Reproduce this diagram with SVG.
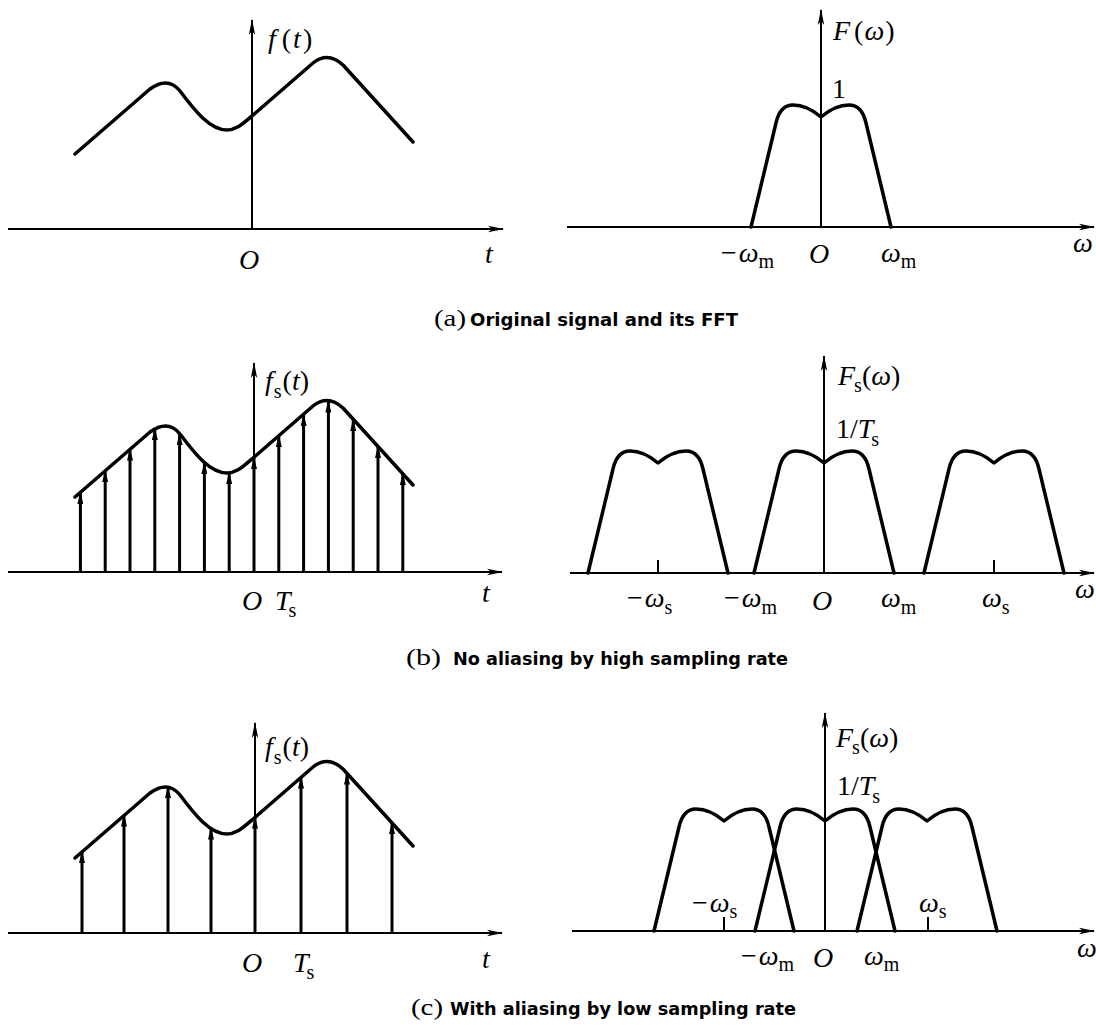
<svg xmlns="http://www.w3.org/2000/svg" width="1096" height="1025" viewBox="0 0 1096 1025">
<style>
.ax{stroke:#000;stroke-width:2;fill:none;marker-end:url(#axh)}
.cv{stroke:#000;stroke-width:3.5;fill:none;stroke-linejoin:round;stroke-linecap:round}
.st{stroke:#000;stroke-width:3;fill:none;marker-end:url(#sth)}
.tk{stroke:#000;stroke-width:2}
.m{font-family:"Liberation Serif","Times New Roman",serif;font-size:28px;fill:#000}
.i{font-style:italic}
.sb{font-size:20px;font-style:normal}
.cap{font-family:"DejaVu Sans",Verdana,sans-serif;font-weight:bold;font-size:17px;fill:#000}
.cl{font-family:"Liberation Serif","Times New Roman",serif;font-size:24px;fill:#000}
</style>
<defs>
<marker id="axh" viewBox="0 0 16 8" refX="15" refY="4" markerWidth="16" markerHeight="8" markerUnits="userSpaceOnUse" orient="auto"><path d="M0,0.8 L16,4 L0,7.2 L4,4 Z" fill="#000"/></marker>
<marker id="sth" viewBox="0 0 12 6" refX="11" refY="3" markerWidth="12" markerHeight="6" markerUnits="userSpaceOnUse" orient="auto"><path d="M0,0 L12,3 L0,6 Z" fill="#000"/></marker>
<path id="sig" d="M75,-75 L150,-140 Q168,-153 180,-138 C195,-118 210,-99 227,-99 C237,-99 243,-106 252,-113 L313,-166 Q328,-178 343,-164 L413,-87"/>
<path id="lobe" d="M-70,0 L-45,-104 Q-41,-122 -28,-122 Q-14,-122 0,-110 Q14,-122 28,-122 Q41,-122 45,-104 L70,0"/>
</defs>
<rect width="1096" height="1025" fill="#fff"/>

<!-- (a) left -->
<g id="a-time">
<line class="ax" x1="8" y1="229" x2="503" y2="229"/>
<line class="ax" x1="252" y1="229" x2="252" y2="20"/>
<use href="#sig" class="cv" transform="translate(0,229)"/>
<text class="m" x="268" y="48"><tspan class="i">f</tspan><tspan dx="6">(</tspan><tspan class="i" dx="2">t</tspan><tspan dx="2">)</tspan></text>
<text class="m i" x="239" y="269">O</text>
<text class="m i" x="485" y="263">t</text>
</g>

<!-- (a) right -->
<g id="a-freq">
<line class="ax" x1="567" y1="227" x2="1094" y2="227"/>
<line class="ax" x1="821" y1="227" x2="821" y2="10"/>
<use href="#lobe" class="cv" transform="translate(821,227)"/>
<text class="m" x="833" y="40"><tspan class="i">F</tspan><tspan dx="4">(</tspan><tspan class="i" dx="1">ω</tspan><tspan dx="1">)</tspan></text>
<text class="m" x="832" y="98">1</text>
<text class="m" x="721" y="262">−<tspan class="i" dx="2">ω</tspan><tspan class="sb" dy="6">m</tspan></text>
<text class="m i" x="809" y="263">O</text>
<text class="m" x="881" y="262"><tspan class="i">ω</tspan><tspan class="sb" dy="6">m</tspan></text>
<text class="m i" x="1073" y="252">ω</text>
</g>

<text id="cap-a" y="326"><tspan class="cl" x="434" textLength="32" lengthAdjust="spacingAndGlyphs">(a)</tspan><tspan class="cap" x="470" textLength="268" lengthAdjust="spacingAndGlyphs">Original signal and its FFT</tspan></text>

<!-- (b) left -->
<g id="b-time">
<line class="ax" x1="8" y1="572" x2="502" y2="572"/>
<line class="ax" x1="254" y1="572" x2="254" y2="363"/>
<use href="#sig" class="cv" transform="translate(0,572)"/>
<g id="b-stems">
<line class="st" x1="80.4" y1="572" x2="80.4" y2="493"/>
<line class="st" x1="105.2" y1="572" x2="105.2" y2="471"/>
<line class="st" x1="130" y1="572" x2="130" y2="449.5"/>
<line class="st" x1="154.8" y1="572" x2="154.8" y2="429"/>
<line class="st" x1="179.6" y1="572" x2="179.6" y2="434"/>
<line class="st" x1="204.4" y1="572" x2="204.4" y2="463"/>
<line class="st" x1="229.2" y1="572" x2="229.2" y2="473"/>
<line class="st" x1="254" y1="572" x2="254" y2="458"/>
<line class="st" x1="278.8" y1="572" x2="278.8" y2="436"/>
<line class="st" x1="303.6" y1="572" x2="303.6" y2="415"/>
<line class="st" x1="328.4" y1="572" x2="328.4" y2="401.5"/>
<line class="st" x1="353.2" y1="572" x2="353.2" y2="420"/>
<line class="st" x1="378" y1="572" x2="378" y2="447"/>
<line class="st" x1="402.8" y1="572" x2="402.8" y2="474"/>
</g>
<text class="m" x="265" y="390"><tspan class="i">f</tspan><tspan class="sb" dx="1" dy="8">s</tspan><tspan dx="1" dy="-8">(</tspan><tspan class="i">t</tspan>)</text>
<text class="m i" x="242" y="610">O</text>
<text class="m" x="275" y="610"><tspan class="i">T</tspan><tspan class="sb" dx="-2" dy="7">s</tspan></text>
<text class="m i" x="482" y="602">t</text>
</g>

<!-- (b) right -->
<g id="b-freq">
<line class="ax" x1="570" y1="573" x2="1094" y2="573"/>
<line class="ax" x1="824" y1="573" x2="824" y2="356"/>
<use href="#lobe" class="cv" transform="translate(658,573)"/>
<use href="#lobe" class="cv" transform="translate(824,573)"/>
<use href="#lobe" class="cv" transform="translate(994,573)"/>
<line class="tk" x1="658" y1="573" x2="658" y2="560"/>
<line class="tk" x1="994" y1="573" x2="994" y2="560"/>
<text class="m" x="838" y="385"><tspan class="i">F</tspan><tspan class="sb" dx="-1" dy="7">s</tspan><tspan dy="-7">(</tspan><tspan class="i">ω</tspan>)</text>
<text class="m" x="836" y="438">1/<tspan class="i">T</tspan><tspan class="sb" dx="-2" dy="8">s</tspan></text>
<text class="m" x="627" y="607">−<tspan class="i" dx="2">ω</tspan><tspan class="sb" dy="7">s</tspan></text>
<text class="m" x="724" y="607">−<tspan class="i" dx="2">ω</tspan><tspan class="sb" dy="7">m</tspan></text>
<text class="m i" x="812" y="610">O</text>
<text class="m" x="881" y="607"><tspan class="i">ω</tspan><tspan class="sb" dy="7">m</tspan></text>
<text class="m" x="982" y="607"><tspan class="i">ω</tspan><tspan class="sb" dy="7">s</tspan></text>
<text class="m i" x="1075" y="598">ω</text>
</g>

<text id="cap-b" y="665"><tspan class="cl" x="406" textLength="35" lengthAdjust="spacingAndGlyphs">(b)</tspan><tspan class="cap" x="453" textLength="335" lengthAdjust="spacingAndGlyphs">No aliasing by high sampling rate</tspan></text>

<!-- (c) left -->
<g id="c-time">
<line class="ax" x1="8" y1="933" x2="502" y2="933"/>
<line class="ax" x1="255" y1="933" x2="255" y2="723"/>
<use href="#sig" class="cv" transform="translate(0,933)"/>
<g id="c-stems">
<line class="st" x1="82" y1="933" x2="82" y2="852"/>
<line class="st" x1="124" y1="933" x2="124" y2="815.5"/>
<line class="st" x1="168" y1="933" x2="168" y2="787"/>
<line class="st" x1="211" y1="933" x2="211" y2="828.5"/>
<line class="st" x1="255" y1="933" x2="255" y2="817.5"/>
<line class="st" x1="301" y1="933" x2="301" y2="777.5"/>
<line class="st" x1="347" y1="933" x2="347" y2="773.5"/>
<line class="st" x1="392" y1="933" x2="392" y2="823"/>
</g>
<text class="m" x="265" y="756"><tspan class="i">f</tspan><tspan class="sb" dx="1" dy="8">s</tspan><tspan dx="1" dy="-8">(</tspan><tspan class="i">t</tspan>)</text>
<text class="m i" x="242" y="972">O</text>
<text class="m" x="293" y="972"><tspan class="i">T</tspan><tspan class="sb" dx="-2" dy="7">s</tspan></text>
<text class="m i" x="482" y="968">t</text>
</g>

<!-- (c) right -->
<g id="c-freq">
<line class="ax" x1="572" y1="931" x2="1094" y2="931"/>
<line class="ax" x1="825" y1="931" x2="825" y2="713"/>
<use href="#lobe" class="cv" transform="translate(724,931)"/>
<use href="#lobe" class="cv" transform="translate(825,931)"/>
<use href="#lobe" class="cv" transform="translate(927,931)"/>
<line class="tk" x1="724" y1="931" x2="724" y2="917"/>
<line class="tk" x1="928" y1="931" x2="928" y2="917"/>
<text class="m" x="836" y="747"><tspan class="i">F</tspan><tspan class="sb" dx="-1" dy="7">s</tspan><tspan dy="-7">(</tspan><tspan class="i">ω</tspan>)</text>
<text class="m" x="837" y="795">1/<tspan class="i">T</tspan><tspan class="sb" dx="-2" dy="8">s</tspan></text>
<text class="m" x="692" y="912">−<tspan class="i" dx="2">ω</tspan><tspan class="sb" dy="6">s</tspan></text>
<text class="m" x="919" y="912"><tspan class="i">ω</tspan><tspan class="sb" dy="6">s</tspan></text>
<text class="m" x="741" y="965">−<tspan class="i" dx="2">ω</tspan><tspan class="sb" dy="6">m</tspan></text>
<text class="m i" x="813" y="967">O</text>
<text class="m" x="864" y="965"><tspan class="i">ω</tspan><tspan class="sb" dy="6">m</tspan></text>
<text class="m i" x="1077" y="957">ω</text>
</g>

<text id="cap-c" y="1015"><tspan class="cl" x="411" textLength="32" lengthAdjust="spacingAndGlyphs">(c)</tspan><tspan class="cap" x="450" textLength="346" lengthAdjust="spacingAndGlyphs">With aliasing by low sampling rate</tspan></text>
</svg>
